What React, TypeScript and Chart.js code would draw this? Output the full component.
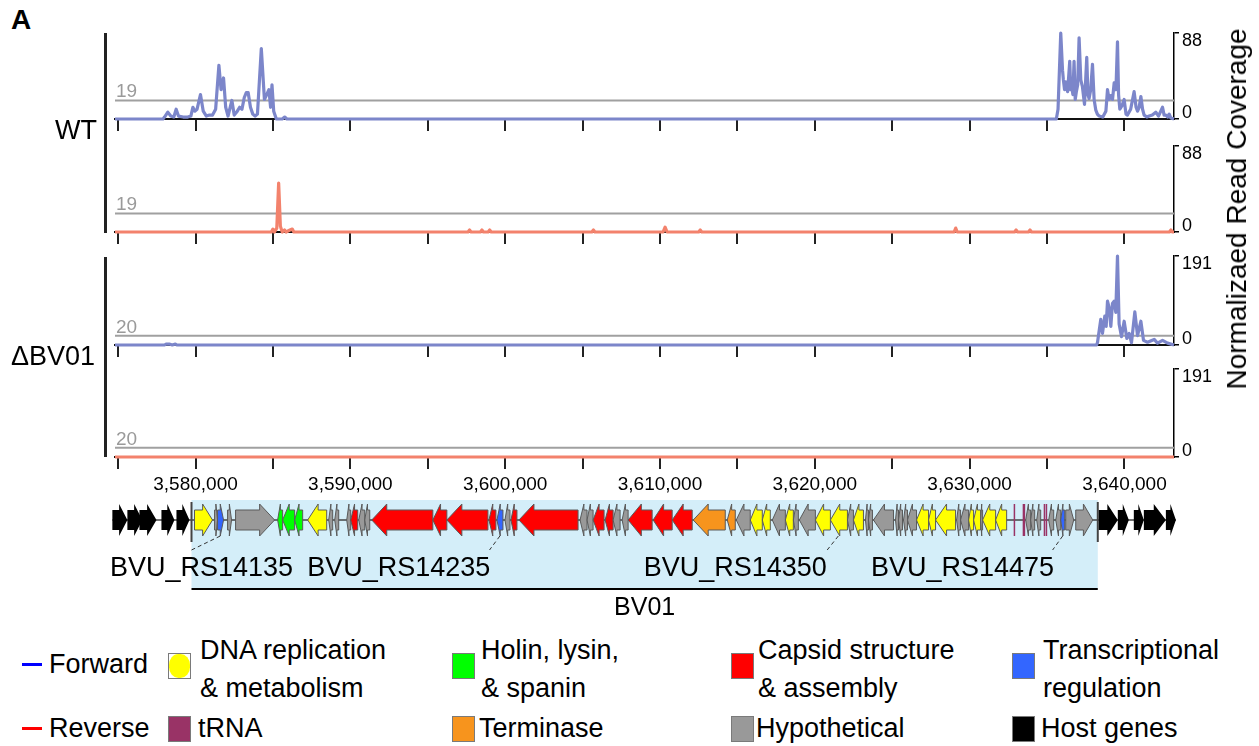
import React, { useEffect, useRef } from "react";
import { Chart, registerables } from "chart.js";

Chart.register(...registerables);

const FONT = "'Liberation Sans', Arial, Helvetica, sans-serif";

// ---------- axis ----------
const X_MIN = 3574800;
const X_MAX = 3643200;
const TICK_VALUES = [3575000, 3580000, 3585000, 3590000, 3595000, 3600000, 3605000, 3610000, 3615000, 3620000, 3625000, 3630000, 3635000, 3640000];
const TICK_LABELS = ["", "3,580,000", "", "3,590,000", "", "3,600,000", "", "3,610,000", "", "3,620,000", "", "3,630,000", "", "3,640,000"];

// ---------- coverage tracks ----------
const WT_MAX = 88;
const WT_THRESHOLD = 19;
const KO_MAX = 191;
const KO_THRESHOLD = 20;

const WT_FWD_POS = [3574800, 3577900, 3578000, 3578210, 3578400, 3578600, 3578750, 3578900, 3579200, 3579500, 3579700, 3579830, 3579950, 3580100, 3580320, 3580500, 3580700, 3580900, 3581100, 3581300, 3581510, 3581650, 3581810, 3581950, 3582100, 3582350, 3582500, 3582700, 3582850, 3583000, 3583150, 3583280, 3583400, 3583550, 3583700, 3583850, 3584000, 3584250, 3584450, 3584600, 3584740, 3584850, 3584940, 3585050, 3585220, 3585600, 3585760, 3585900,
  3635600, 3635710, 3635885, 3636000, 3636055, 3636130, 3636210, 3636330, 3636465, 3636530, 3636595, 3636670, 3636745, 3636820, 3636895, 3636980, 3637070, 3637180, 3637285, 3637420, 3637565, 3637640, 3637715, 3637820, 3637935, 3638040, 3638150, 3638250, 3638360, 3638600, 3638800, 3638905, 3639010, 3639120, 3639230, 3639335, 3639450, 3639550, 3639620, 3639700, 3639850, 3639980, 3640100, 3640195, 3640400, 3640625, 3640750, 3640845, 3640950, 3641060, 3641170, 3641270, 3641450, 3641595, 3641800, 3642025, 3642200, 3642460, 3642560, 3642675, 3642790, 3642890, 3643000, 3643200];
const WT_FWD_VAL = [0, 0, 2, 7, 3, 2, 10, 3, 2, 2, 3, 12, 8, 10, 25, 8, 3, 4, 4, 10, 55, 30, 42, 12, 3, 19, 4, 8, 12, 10, 22, 27, 27, 12, 5, 3, 5, 72, 20, 25, 30, 12, 35, 8, 0, 0, 2, 0,
  0, 10, 88, 50, 40, 30, 38, 28, 59, 30, 33, 25, 59, 20, 28, 35, 83, 40, 33, 15, 63, 25, 21, 30, 56, 20, 9, 5, 3, 2, 8, 30, 20, 24, 20, 37, 30, 79, 25, 10, 14, 20, 5, 4, 10, 28, 12, 8, 12, 23, 10, 4, 2, 3, 4, 7, 3, 12, 4, 4, 2, 5, 1, 0];

const WT_REV_POS = [3574800, 3584900, 3585000, 3585100, 3585250, 3585370, 3585480, 3585600, 3585750, 3585850, 3586100, 3586250, 3586350, 3597600, 3597700, 3597800, 3598400, 3598500, 3598600, 3598900, 3599000, 3599100, 3605600, 3605700, 3605800, 3610200, 3610330, 3610460, 3612500, 3612600, 3612700, 3629000, 3629100, 3629200, 3632900, 3633000, 3633100, 3633800, 3633900, 3634000, 3642900, 3643000, 3643100, 3643200];
const WT_REV_VAL = [0, 0, 3, 0, 4, 50, 6, 0, 2, 0, 2, 3, 0, 0, 2, 0, 0, 2, 0, 0, 2, 0, 0, 2, 0, 0, 5, 0, 0, 2, 0, 0, 4, 0, 0, 2, 0, 0, 2, 0, 0, 2, 0, 0];

const KO_FWD_POS = [3574800, 3578000, 3578100, 3578300, 3578500, 3578700, 3578800, 3638200, 3638257, 3638470, 3638580, 3638730, 3638820, 3638905, 3639010, 3639120, 3639225, 3639335, 3639440, 3639550, 3639655, 3639810, 3639980, 3640155, 3640305, 3640455, 3640670, 3640845, 3641060, 3641230, 3641490, 3641920, 3642135, 3642460, 3642785, 3643200];
const KO_FWD_VAL = [0, 0, 2, 2, 0, 2, 0, 0, 5, 55, 25, 62, 40, 94, 80, 40, 89, 94, 70, 191, 45, 18, 51, 14, 25, 5, 71, 20, 51, 10, 6, 12, 4, 10, 4, 0];

const KO_REV_POS = [3574800, 3643200];
const KO_REV_VAL = [0, 0];

// ---------- genes ----------
const REGION_START = 3579741;
const REGION_END = 3638277;

const GENE_START = [3574630, 3575600, 3576380, 3577800, 3578770,
  3579935, 3581229, 3581423, 3582070, 3582587, 3585304, 3585627, 3586403, 3587244, 3588602, 3588991, 3589767, 3590025, 3590543, 3590931,
  3591384, 3595329, 3596235, 3598951, 3599469, 3599986, 3600374, 3600892, 3604837, 3605290, 3605678, 3606454, 3606972, 3607554, 3607942,
  3609559, 3610788, 3612146, 3614345, 3614927, 3615833, 3616609, 3617256, 3618097, 3618614, 3619002, 3620037, 3621007, 3622107, 3622495,
  3623271, 3623465, 3623788, 3625211, 3625405, 3625729, 3625987, 3626570, 3627346, 3627799, 3629157, 3629416, 3629933, 3630256, 3630709,
  3630838, 3631679, 3632844, 3633426, 3633490, 3633620, 3633943, 3634331, 3634784, 3634913, 3635107, 3635560, 3635884, 3636207, 3636854,
  3638341, 3639570, 3640605, 3641252, 3642675];
const GENE_END = [3575600, 3576570, 3577480, 3578640, 3579610,
  3581100, 3581423, 3581811, 3582328, 3585110, 3585627, 3586403, 3586921, 3588473, 3588861, 3589249, 3590025, 3590478, 3590931, 3591254,
  3595329, 3596235, 3598887, 3599404, 3599857, 3600310, 3600762, 3604708, 3605290, 3605678, 3606389, 3606972, 3607424, 3607942, 3609494,
  3610788, 3612081, 3614216, 3614863, 3615830, 3616609, 3617126, 3618097, 3618614, 3618937, 3620037, 3621007, 3622107, 3622495, 3623142,
  3623465, 3623724, 3625082, 3625405, 3625664, 3625987, 3626570, 3627346, 3627799, 3629092, 3629416, 3629933, 3630256, 3630709, 3630838,
  3631679, 3632391, 3632904, 3633480, 3633550, 3633943, 3634202, 3634590, 3634840, 3634970, 3635431, 3635884, 3636142, 3636724, 3637953,
  3639570, 3640282, 3641252, 3642675, 3643322];
const GENE_STRAND = [1, 1, 1, 1, 1,
  1, 1, 1, 1, 1, -1, -1, -1, -1, -1, -1, -1, -1, -1, -1,
  -1, -1, -1, -1, -1, -1, -1, -1, -1, -1, -1, -1, -1, -1, -1,
  -1, -1, -1, -1, -1, -1, -1, -1, -1, -1, -1, -1, -1, -1, -1,
  -1, -1, -1, -1, -1, -1, -1, -1, -1, -1, -1, -1, -1, -1, -1,
  -1, -1, 0, 0, 0, -1, -1, -1, 0, 0, -1, -1, -1, 1, 1,
  1, 1, 1, 1, 1];
const GENE_CAT = ["host", "host", "host", "host", "host",
  "dna", "hyp", "tx", "hyp", "hyp", "holin", "holin", "holin", "dna", "hyp", "hyp", "hyp", "capsid", "hyp", "hyp",
  "capsid", "capsid", "capsid", "capsid", "tx", "hyp", "capsid", "capsid", "hyp", "hyp", "capsid", "capsid", "hyp", "hyp", "capsid",
  "capsid", "capsid", "term", "term", "hyp", "dna", "dna", "hyp", "dna", "hyp", "hyp", "dna", "dna", "hyp", "dna",
  "hyp", "hyp", "hyp", "hyp", "hyp", "hyp", "hyp", "dna", "dna", "dna", "hyp", "hyp", "dna", "dna", "hyp",
  "dna", "dna", "trna", "trna", "trna", "hyp", "hyp", "hyp", "trna", "trna", "hyp", "hyp", "tx", "hyp", "hyp",
  "host", "host", "host", "host", "host"];

const CAT_COLORS: Record<string, string> = {
  dna: "#ffff00", holin: "#00ff00", capsid: "#ff0000", tx: "#3366ff",
  trna: "#993366", term: "#f7941d", hyp: "#999999", host: "#000000",
};

const LABEL_NAMES = ["BVU_RS14135", "BVU_RS14235", "BVU_RS14350", "BVU_RS14475"];
const LABEL_GENE_BP = [3581600, 3599660, 3621520, 3636010];
const LABEL_LEADER_END_BP = [3579740, 3598990, 3620800, 3635360];
const LABEL_CENTER_BP = [3580390, 3593130, 3614860, 3629540];

const REGION_NAME = "BV01";

// ---------- legend ----------
const LEGEND_STRAND_NAMES = ["Forward", "Reverse"];
const LEGEND_STRAND_COLORS = ["#0000ff", "#ff0000"];
const LEGEND_ROW1 = [["DNA replication", "& metabolism"], ["Holin, lysin,", "& spanin"], ["Capsid structure", "& assembly"], ["Transcriptional", "regulation"]];
const LEGEND_ROW1_CATS = ["dna", "holin", "capsid", "tx"];
const LEGEND_ROW2 = ["tRNA", "Terminase", "Hypothetical", "Host genes"];
const LEGEND_ROW2_CATS = ["trna", "term", "hyp", "host"];

// ---------- layout constants ----------
const CANVAS_W = 1259;
const PLOT_LEFT = 115;
const RIGHT_PAD = 40;
const Y_AXIS_W = 45;
const TRACK_TOPS = [33, 146, 256, 369];
const TRACK_BASELINES = [119, 232, 345, 457];
const TOP_PAD = 14;

const FWD_COLOR = "#7c86ca";
const REV_COLOR = "#f3826c";

const trackDecorPlugin = {
  id: "trackDecor",
  afterDraw(chart: any, _args: any, opts: any) {
    const { ctx, chartArea, scales } = chart;
    const y = scales.y;
    ctx.save();
    // threshold label
    ctx.font = `19px ${FONT}`;
    ctx.fillStyle = "#9a9a9a";
    ctx.textAlign = "left";
    ctx.textBaseline = "alphabetic";
    ctx.fillText(String(opts.thr), chartArea.left + 1, y.getPixelForValue(opts.thr) - 3);
    // right axis labels (inside the bracket)
    ctx.font = `18px ${FONT}`;
    ctx.fillStyle = "#000";
    ctx.textBaseline = "middle";
    ctx.fillText(String(opts.max), y.left + 8, y.getPixelForValue(opts.max) + 8);
    ctx.fillText("0", y.left + 8, y.getPixelForValue(0) - 6);
    ctx.restore();
  },
};

function trackConfig(pos: number[], val: number[], yMax: number, thr: number, color: string, showLabels: boolean) {
  const pts = pos.map((x, i) => ({ x, y: val[i] }));
  return {
    type: "line",
    data: {
      datasets: [
        { data: pts, borderColor: color, borderWidth: 3.2, pointRadius: 0, tension: 0, clip: false, order: 1, borderJoinStyle: "round" },
        { data: [{ x: X_MIN, y: thr }, { x: X_MAX, y: thr }], borderColor: "#a0a0a0", borderWidth: 2, pointRadius: 0, order: 2 },
      ],
    },
    options: {
      responsive: false,
      animation: false,
      devicePixelRatio: 1,
      events: [],
      layout: { padding: { left: PLOT_LEFT, right: RIGHT_PAD, top: TOP_PAD, bottom: showLabels ? 0 : 4 } },
      plugins: { legend: { display: false }, tooltip: { enabled: false }, trackDecor: { thr, max: yMax } },
      scales: {
        x: {
          type: "linear", min: X_MIN, max: X_MAX, position: "bottom",
          afterBuildTicks: (s: any) => { s.ticks = TICK_VALUES.map((v) => ({ value: v })); },
          afterFit: (s: any) => { s.height = showLabels ? 42 : 12; },
          ticks: {
            display: showLabels, autoSkip: false, maxRotation: 0, minRotation: 0, padding: 4,
            color: "#000", font: { size: 19, family: FONT },
            callback: (_v: any, i: number) => TICK_LABELS[i],
          },
          grid: { drawOnChartArea: false, drawTicks: true, tickLength: 12, color: "#222", lineWidth: 2 },
          border: { display: true, color: "#111", width: 2 },
        },
        y: {
          type: "linear", position: "right", min: 0, max: yMax,
          afterBuildTicks: (s: any) => { s.ticks = [{ value: 0 }, { value: yMax }]; },
          afterFit: (s: any) => { s.width = Y_AXIS_W; },
          ticks: { display: false },
          grid: { drawOnChartArea: false, drawTicks: true, tickLength: 5, color: "#000", lineWidth: 1.5 },
          border: { display: true, color: "#000", width: 1.5 },
        },
      },
    },
    plugins: [trackDecorPlugin],
  };
}

function drawArrow(ctx: CanvasRenderingContext2D, x1: number, x2: number, yc: number, strand: number, fill: string, stroke: string | null) {
  const len = x2 - x1;
  const bh = 10;
  const hh = 16;
  const head = Math.min(15, len * 0.55);
  ctx.beginPath();
  if (strand >= 0) {
    ctx.moveTo(x1, yc - bh);
    ctx.lineTo(x2 - head, yc - bh);
    ctx.lineTo(x2 - head, yc - hh);
    ctx.lineTo(x2, yc);
    ctx.lineTo(x2 - head, yc + hh);
    ctx.lineTo(x2 - head, yc + bh);
    ctx.lineTo(x1, yc + bh);
  } else {
    ctx.moveTo(x2, yc - bh);
    ctx.lineTo(x1 + head, yc - bh);
    ctx.lineTo(x1 + head, yc - hh);
    ctx.lineTo(x1, yc);
    ctx.lineTo(x1 + head, yc + hh);
    ctx.lineTo(x1 + head, yc + bh);
    ctx.lineTo(x2, yc + bh);
  }
  ctx.closePath();
  ctx.fillStyle = fill;
  ctx.fill();
  if (stroke) {
    ctx.strokeStyle = stroke;
    ctx.lineWidth = 1;
    ctx.stroke();
  }
}

const genePlugin = {
  id: "genes",
  afterDraw(chart: any) {
    const { ctx, scales } = chart;
    const px = (v: number) => scales.x.getPixelForValue(v);
    const py = (v: number) => scales.y.getPixelForValue(v);
    ctx.save();
    const rx1 = px(REGION_START), rx2 = px(REGION_END);
    ctx.fillStyle = "#d4eef9";
    ctx.fillRect(rx1, py(5), rx2 - rx1, py(93) - py(5));
    ctx.strokeStyle = "#000";
    ctx.lineWidth = 2;
    ctx.beginPath();
    ctx.moveTo(rx1, py(94));
    ctx.lineTo(rx2, py(94));
    ctx.stroke();
    ctx.fillStyle = "#000";
    ctx.font = `25px ${FONT}`;
    ctx.textAlign = "center";
    ctx.textBaseline = "alphabetic";
    ctx.fillText(REGION_NAME, (rx1 + rx2) / 2, py(120));
    const yc = py(25);
    ctx.strokeStyle = "#444";
    ctx.lineWidth = 1.3;
    ctx.beginPath();
    ctx.moveTo(px(GENE_START[0]), yc);
    ctx.lineTo(px(GENE_END[GENE_END.length - 1]), yc);
    ctx.stroke();
    ctx.strokeStyle = "#444";
    ctx.lineWidth = 2;
    [REGION_START, REGION_END].forEach((b) => {
      ctx.beginPath();
      ctx.moveTo(px(b), py(7));
      ctx.lineTo(px(b), py(47));
      ctx.stroke();
    });
    for (let i = 0; i < GENE_START.length; i++) {
      const x1 = px(GENE_START[i]);
      const x2 = px(GENE_END[i]);
      const cat = GENE_CAT[i];
      const col = CAT_COLORS[cat];
      if (cat === "trna") {
        ctx.fillStyle = col;
        ctx.fillRect(x1, yc - 16, Math.max(1.5, x2 - x1), 32);
        continue;
      }
      drawArrow(ctx, x1, x2, yc, GENE_STRAND[i], col, cat === "host" ? null : "#5a5a5a");
    }
    ctx.font = `27px ${FONT}`;
    ctx.fillStyle = "#000";
    ctx.textAlign = "center";
    for (let i = 0; i < LABEL_NAMES.length; i++) {
      ctx.strokeStyle = "#333";
      ctx.lineWidth = 1;
      ctx.setLineDash([4, 3]);
      ctx.beginPath();
      ctx.moveTo(px(LABEL_GENE_BP[i]), py(41));
      ctx.lineTo(px(LABEL_LEADER_END_BP[i]), py(55));
      ctx.stroke();
      ctx.setLineDash([]);
      ctx.fillText(LABEL_NAMES[i], px(LABEL_CENTER_BP[i]), py(81));
    }
    ctx.restore();
  },
};

function geneConfig() {
  return {
    type: "line",
    data: { datasets: [] },
    options: {
      responsive: false,
      animation: false,
      devicePixelRatio: 1,
      events: [],
      layout: { padding: { left: PLOT_LEFT, right: RIGHT_PAD + Y_AXIS_W, top: 0, bottom: 0 } },
      plugins: { legend: { display: false }, tooltip: { enabled: false } },
      scales: {
        x: { type: "linear", min: X_MIN, max: X_MAX, display: false },
        y: { type: "linear", min: 0, max: 130, reverse: true, display: false },
      },
    },
    plugins: [genePlugin],
  };
}

function ChartCanvas({ top, height, make }: { top: number; height: number; make: () => any }) {
  const ref = useRef<HTMLCanvasElement>(null);
  useEffect(() => {
    const chart = new Chart(ref.current as HTMLCanvasElement, make());
    return () => chart.destroy();
  }, []);
  return (
    <canvas
      ref={ref}
      width={CANVAS_W}
      height={height}
      style={{ position: "absolute", left: 0, top, width: CANVAS_W, height, display: "block" }}
    />
  );
}

const textStyle = (size: number): React.CSSProperties => ({
  position: "absolute",
  fontFamily: FONT,
  fontSize: size,
  lineHeight: `${size}px`,
  color: "#000",
  whiteSpace: "nowrap",
});

function Swatch({ left, top, cat }: { left: number; top: number; cat: string }) {
  const col = CAT_COLORS[cat];
  return (
    <div style={{ position: "absolute", left, top, width: 23, height: 26, border: "1.5px solid #7a7a7a", background: cat === "dna" ? "#fff" : col, boxSizing: "border-box" }}>
      {cat === "dna" ? <div style={{ width: "100%", height: "100%", background: col, borderRadius: "45%" }} /> : null}
    </div>
  );
}

export default function App() {
  const tracks = [
    { pos: WT_FWD_POS, val: WT_FWD_VAL, max: WT_MAX, thr: WT_THRESHOLD, color: FWD_COLOR },
    { pos: WT_REV_POS, val: WT_REV_VAL, max: WT_MAX, thr: WT_THRESHOLD, color: REV_COLOR },
    { pos: KO_FWD_POS, val: KO_FWD_VAL, max: KO_MAX, thr: KO_THRESHOLD, color: FWD_COLOR },
    { pos: KO_REV_POS, val: KO_REV_VAL, max: KO_MAX, thr: KO_THRESHOLD, color: REV_COLOR },
  ];
  const colX = [168, 452, 731, 1012];
  const textX = [200, 481, 758, 1043];
  const LS = 27;
  return (
    <div style={{ position: "fixed", left: 0, top: 0, width: CANVAS_W, height: 746, background: "#fff", overflow: "hidden" }}>
      <div style={{ ...textStyle(28), left: 11, top: 6, fontWeight: "bold" }}>A</div>

      {tracks.map((t, i) => {
        const last = i === tracks.length - 1;
        const h = TRACK_BASELINES[i] - TRACK_TOPS[i];
        const top = TRACK_TOPS[i] - TOP_PAD;
        const height = TOP_PAD + h + (last ? 42 : 16);
        return (
          <ChartCanvas key={i} top={top} height={height}
            make={() => trackConfig(t.pos, t.val, t.max, t.thr, t.color, last)} />
        );
      })}

      <ChartCanvas top={495} height={130} make={geneConfig} />

      <div style={{ position: "absolute", left: 104, top: 33, width: 3, height: 200, background: "#222" }} />
      <div style={{ position: "absolute", left: 104, top: 257, width: 3, height: 200, background: "#222" }} />
      <div style={{ ...textStyle(27), left: 0, width: 97, textAlign: "right", top: 130 - 13.5 }}>WT</div>
      <div style={{ ...textStyle(27), left: 0, width: 95, textAlign: "right", top: 356 - 13.5 }}>ΔBV01</div>

      <div style={{ ...textStyle(28), left: 1237, top: 209, transform: "translate(-50%, -50%) rotate(-90deg)" }}>
        Normalizaed Read Coverage
      </div>

      {LEGEND_STRAND_NAMES.map((n, i) => {
        const yc = i === 0 ? 664 : 728;
        return (
          <React.Fragment key={n}>
            <div style={{ position: "absolute", left: 22, top: yc - 1.5, width: 20, height: 3, background: LEGEND_STRAND_COLORS[i] }} />
            <div style={{ ...textStyle(LS), left: 49, top: yc - LS / 2 }}>{n}</div>
          </React.Fragment>
        );
      })}
      {LEGEND_ROW1.map((lines, i) => (
        <React.Fragment key={lines[0]}>
          <Swatch left={colX[i]} top={653} cat={LEGEND_ROW1_CATS[i]} />
          <div style={{ ...textStyle(LS), left: textX[i], top: 650 - LS / 2 }}>{lines[0]}</div>
          <div style={{ ...textStyle(LS), left: textX[i], top: 688 - LS / 2 }}>{lines[1]}</div>
        </React.Fragment>
      ))}
      {LEGEND_ROW2.map((n, i) => (
        <React.Fragment key={n}>
          <Swatch left={colX[i]} top={716} cat={LEGEND_ROW2_CATS[i]} />
          <div style={{ ...textStyle(LS), left: textX[i] - 2, top: 728 - LS / 2 }}>{n}</div>
        </React.Fragment>
      ))}
    </div>
  );
}
